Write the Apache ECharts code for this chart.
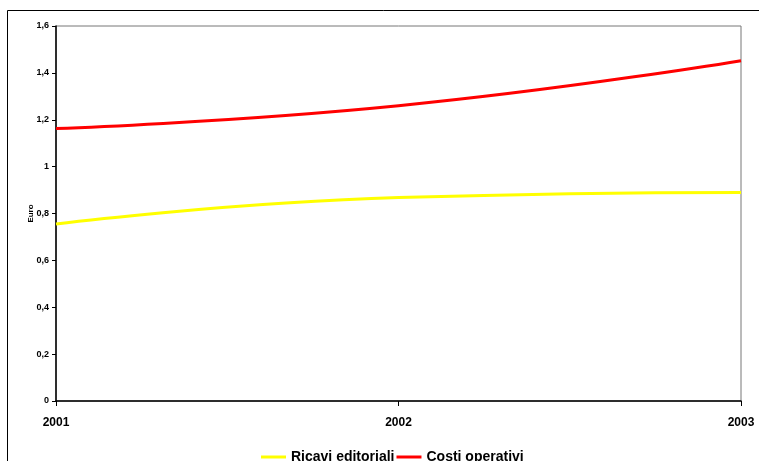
<!DOCTYPE html>
<html>
<head>
<meta charset="utf-8">
<script src="https://cdn.jsdelivr.net/npm/echarts@6/dist/echarts.min.js"></script>
<style>
  html, body { margin: 0; padding: 0; background: #fff; }
  #chart { width: 759px; height: 461px; }
</style>
</head>
<body>
<div id="chart"></div>
<script>
const years = ['2001', '2002', '2003']
const ricavi = [0.755, 0.868, 0.89]
const costi = [1.163, 1.26, 1.452]
const seriesNames = ['Ricavi editoriali', 'Costi operativi']

const chart = echarts.init(document.getElementById('chart'))
const option = {
  animation: false,
  textStyle: { fontFamily: 'Liberation Sans, Arial, sans-serif' },
  graphic: [
    {
      type: 'rect',
      shape: { x: 7.5, y: 10.5, width: 800, height: 500 },
      style: { fill: 'none', stroke: '#000', lineWidth: 1 },
      z: -1
    }
  ],
  grid: {
    left: 56, right: 18, top: 26, bottom: 60,
    show: true, borderColor: '#777', borderWidth: 1
  },
  legend: {
    data: seriesNames,
    bottom: -8,
    left: 256,
    itemWidth: 25,
    itemHeight: 3,
    itemGap: 2,
    icon: 'rect',
    textStyle: { fontSize: 14, fontWeight: 'bold', color: '#000' }
  },
  xAxis: {
    type: 'category',
    data: years,
    boundaryGap: false,
    axisLine: { lineStyle: { color: '#000', width: 1.5 } },
    axisTick: { length: 5, lineStyle: { color: '#000' } },
    axisLabel: { fontSize: 12, fontWeight: 'bold', color: '#000', margin: 16 }
  },
  yAxis: {
    type: 'value',
    min: 0, max: 1.6, interval: 0.2,
    name: 'Euro',
    nameLocation: 'middle',
    nameRotate: 90,
    nameGap: 21,
    nameMoveOverlap: false,
    nameTextStyle: { fontSize: 8, fontWeight: 'bold', color: '#000' },
    axisLine: { show: true, lineStyle: { color: '#000', width: 1.5 } },
    axisTick: { show: true, length: 4, lineStyle: { color: '#000' } },
    splitLine: { show: false },
    axisLabel: {
      fontSize: 9, fontWeight: 'bold', color: '#000', margin: 7,
      formatter: v => String(Math.round(v * 10) / 10).replace('.', ',')
    }
  },
  series: [
    {
      name: seriesNames[0], type: 'line', data: ricavi, smooth: true,
      symbol: 'none', lineStyle: { color: '#ffff00', width: 3 }, itemStyle: { color: '#ffff00' }
    },
    {
      name: seriesNames[1], type: 'line', data: costi, smooth: true,
      symbol: 'none', lineStyle: { color: '#ff0000', width: 3 }, itemStyle: { color: '#ff0000' }
    }
  ]
}
chart.setOption(option)
</script>
</body>
</html>
